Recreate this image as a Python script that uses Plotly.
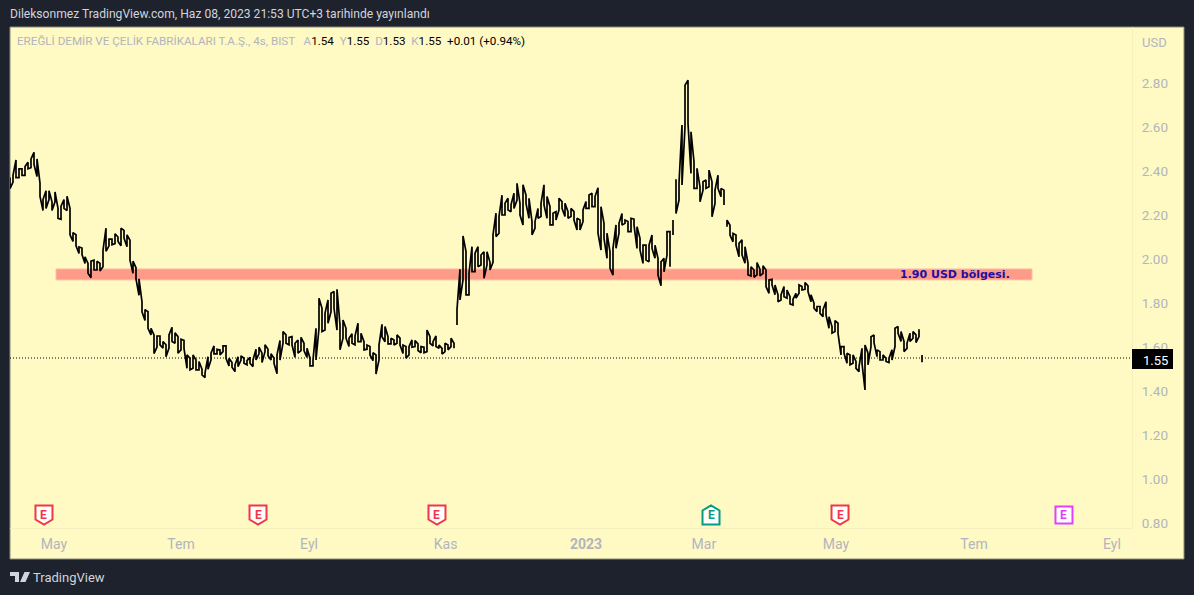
import plotly.graph_objects as go

highs = [
2.37,2.38,2.45,2.41,2.41,2.42,2.44,2.455,2.485,2.455,2.345,2.27,2.31,2.31,2.26,2.305,2.23,2.24,2.27,2.285,2.23,2.12,2.11,2.055,2.05,2.01,1.98,1.99,1.995,1.99,1.98,2.04,2.14,2.09,2.09,2.115,2.10,2.14,2.13,2.11,2.085,1.99,1.96,1.91,1.805,1.77,1.76,1.685,1.655,1.65,1.65,1.625,1.61,
1.655,1.69,1.665,1.647,1.635,1.63,1.564,1.549,1.564,1.541,1.534,1.499,1.481,1.556,1.572,1.605,1.59,1.587,1.605,1.605,1.549,1.529,1.519,1.556,1.56,1.549,1.538,1.553,1.541,1.59,1.599,1.572,1.61,1.59,1.569,1.549,1.564,1.63,1.67,1.655,1.644,1.647,1.617,1.632,1.644,1.617,1.594,1.549,1.541,1.685,1.822,
1.776,1.753,1.814,1.844,1.852,1.862,1.70,1.723,1.685,1.64,1.66,1.65,1.708,1.662,1.624,1.609,1.602,1.574,1.564,1.609,1.703,1.693,1.647,1.64,1.632,1.655,1.64,1.609,1.602,1.602,1.632,1.629,1.614,1.602,1.599,1.677,1.647,1.624,1.65,1.609,1.594,1.617,1.609,1.64,1.617,1.771,1.953,2.105,2.034,1.935,
2.056,2.026,2.056,2.018,2.033,2.033,1.985,2.11,2.208,2.193,2.29,2.253,2.276,2.246,2.299,2.344,2.253,2.337,2.29,2.276,2.17,2.17,2.23,2.253,2.337,2.284,2.238,2.208,2.215,2.276,2.261,2.253,2.215,2.23,2.215,2.185,2.177,2.223,2.261,2.291,2.299,2.284,2.324,2.238,2.162,2.117,2.033,2.049,2.155,2.162,
2.207,2.177,2.17,2.185,2.181,2.147,2.094,2.063,2.063,2.063,2.109,2.063,2.003,1.987,2.003,2.124,2.124,2.177,2.363,2.344,2.609,2.79,2.813,2.578,2.442,2.412,2.328,2.351,2.359,2.404,2.351,2.313,2.381,2.321,2.313,2.177,2.154,2.116,2.109,2.071,
2.087,2.056,1.981,1.965,1.95,1.984,1.953,1.969,1.95,1.905,1.908,1.882,1.837,1.837,1.875,1.859,1.829,1.817,1.844,1.882,1.875,1.893,1.878,1.837,1.799,1.784,1.784,1.769,1.806,1.738,1.693,1.72,1.708,1.602,1.602,1.572,1.564,1.564,1.534,1.511,1.594,1.609,1.572,1.647,1.655,1.587,1.579,1.564,1.549,1.549,1.587,1.685,1.693,1.67,1.625,1.617,1.663,1.67,1.655,1.681,1.564]
lows = [
2.32,2.35,2.37,2.37,2.38,2.38,2.41,2.415,2.43,2.375,2.285,2.22,2.23,2.27,2.22,2.26,2.185,2.18,2.23,2.22,2.11,2.08,2.06,2.025,2.02,1.98,1.935,1.915,1.95,1.95,1.945,1.965,2.035,2.06,2.065,2.07,2.08,2.06,2.095,2.056,1.995,1.935,1.91,1.835,1.76,1.72,1.685,1.655,1.57,1.60,1.61,1.595,1.556,
1.595,1.625,1.617,1.572,1.587,1.594,1.503,1.496,1.503,1.496,1.496,1.473,1.461,1.499,1.541,1.569,1.569,1.564,1.579,1.549,1.514,1.508,1.488,1.511,1.541,1.526,1.519,1.526,1.511,1.541,1.569,1.529,1.579,1.56,1.541,1.526,1.478,1.541,1.617,1.617,1.61,1.61,1.553,1.572,1.584,1.584,1.553,1.514,1.514,1.541,1.685,
1.67,1.677,1.708,1.76,1.776,1.677,1.587,1.64,1.64,1.602,1.617,1.61,1.624,1.624,1.587,1.59,1.564,1.538,1.477,1.541,1.647,1.624,1.614,1.614,1.609,1.617,1.609,1.571,1.549,1.564,1.599,1.602,1.584,1.574,1.574,1.579,1.617,1.605,1.602,1.594,1.568,1.579,1.587,1.602,1.594,1.70,1.814,1.905,1.837,1.837,
1.943,1.943,1.965,1.973,1.912,1.973,1.95,1.985,2.102,2.117,2.2,2.2,2.223,2.215,2.23,2.268,2.2,2.155,2.253,2.185,2.11,2.14,2.185,2.193,2.246,2.185,2.155,2.155,2.177,2.223,2.23,2.193,2.185,2.193,2.177,2.132,2.132,2.17,2.23,2.23,2.238,2.238,2.117,2.041,2.094,2.003,1.958,1.927,2.049,2.117,
2.154,2.162,2.124,2.124,2.154,2.048,2.041,1.98,1.995,1.987,2.048,2.003,1.927,1.878,1.942,2.018,1.965,2.109,2.207,2.268,2.336,2.601,2.616,2.389,2.321,2.321,2.26,2.313,2.321,2.328,2.192,2.253,2.321,2.283,2.245,2.147,2.109,2.078,2.063,2.01,
2.019,1.981,1.928,1.923,1.917,1.928,1.923,1.935,1.875,1.844,1.882,1.837,1.806,1.814,1.829,1.822,1.796,1.791,1.822,1.844,1.859,1.862,1.852,1.806,1.776,1.761,1.753,1.738,1.746,1.685,1.663,1.67,1.663,1.564,1.572,1.526,1.519,1.526,1.503,1.488,1.526,1.405,1.519,1.602,1.62,1.556,1.541,1.541,1.534,1.529,1.541,1.602,1.663,1.625,1.579,1.594,1.625,1.64,1.62,1.647,1.531]
break_before = [149, 221, 222, 239, 304]     # bars the chart leaves unconnected

last_price = 1.55
zone_low, zone_high = 1.905, 1.955
zone_start, zone_end = 15.33, 340.67
zone_label = "1.90 USD bölgesi."

month_ticks = [14.67, 57, 99.67, 145.2, 192, 231.3, 275.3, 321.33, 367.33]
month_labels = ["May", "Tem", "Eyl", "Kas", "<b>2023</b>", "Mar", "May", "Tem", "Eyl"]
price_ticks = [0.8, 1.0, 1.2, 1.4, 1.6, 1.8, 2.0, 2.2, 2.4, 2.6, 2.8]
price_labels = ["0.80", "1.00", "1.20", "1.40", "1.60", "1.80", "2.00", "2.20", "2.40", "2.60", "2.80"]

earnings_bars = [11.33, 82.67, 142.33, 233.67, 276.67, 351.33]
earnings_kind = ["past", "past", "past", "up", "past", "next"]

W, H = 1194, 595
L, R, T, B = 10, 1132, 27, 528
BG, PANEL, GREY = "#1e222d", "#fff9c4", "#b2b5be"
FONT = "Roboto"

def px(x): return (x - L) / (R - L)
def py(y): return (B - y) / (B - T)

xs, ys = [], []
for i, (h, l) in enumerate(zip(highs, lows)):
    if i in break_before:
        xs.append(None); ys.append(None)
    pair = (h, l) if i % 2 == 0 else (l, h)
    xs += [i, i]; ys += list(pair)

fig = go.Figure()
fig.add_trace(go.Scatter(x=xs, y=ys, mode="lines", connectgaps=False,
                         line=dict(color="#000000", width=1.7), hoverinfo="skip"))

shapes = [
    dict(type="rect", xref="paper", yref="paper", x0=0, x1=px(1184), y0=py(559), y1=1,
         fillcolor=PANEL, line=dict(color="#8a8a7c", width=1), layer="below"),
    dict(type="rect", xref="x", yref="y", x0=zone_start, x1=zone_end, y0=zone_low, y1=zone_high,
         fillcolor="#fd9a88", line=dict(color="#fdc2a8", width=1), layer="below"),
    dict(type="line", xref="paper", yref="y", x0=0, x1=1, y0=last_price, y1=last_price,
         line=dict(color="#000000", width=1, dash="1px,2px"), layer="below"),
    dict(type="rect", xref="paper", yref="paper", x0=px(1132), x1=px(1173), y0=py(369), y1=py(349),
         fillcolor="#000000", line=dict(width=0), layer="above"),
    # TradingView logo
    dict(type="path", xref="paper", yref="paper", xsizemode="pixel", ysizemode="pixel",
         xanchor=px(10), yanchor=py(582),
         path="M 0 10 L 9 10 L 9 0 L 5 0 L 5 6 L 0 6 Z M 14.5 10 L 20 10 L 15.5 0 L 10 0 Z M 10 8 A 2 2 0 1 0 14 8 A 2 2 0 1 0 10 8 Z",
         fillcolor="#d1d4dc", line=dict(width=0)),
]
icon = {
    "past": ("#f23645", "M -8.5 9.5 L 8.5 9.5 L 8.5 -4.5 L 0 -9.5 L -8.5 -4.5 Z"),
    "up": ("#089981", "M -8.5 -9.5 L 8.5 -9.5 L 8.5 4.5 L 0 9.5 L -8.5 4.5 Z"),
    "next": ("#e040fb", "M -8.5 8.5 L 8.5 8.5 L 8.5 -8.5 L -8.5 -8.5 Z"),
}
annotations = []
for b, k in zip(earnings_bars, earnings_kind):
    c, p = icon[k]
    shapes.append(dict(type="path", xref="x", yref="paper", xsizemode="pixel", ysizemode="pixel",
                       xanchor=b, yanchor=py(515), path=p, fillcolor="#ffffff",
                       line=dict(color=c, width=2), layer="above"))
    annotations.append(dict(x=b, xref="x", y=py(515), yref="paper", text="<b>E</b>", showarrow=False,
                            font=dict(family="Roboto", size=12, color=c), xanchor="center", yanchor="middle"))

def note(x, y, text, size=12, color=GREY, xanchor="left"):
    annotations.append(dict(x=px(x), y=py(y), xref="paper", yref="paper", text=text, showarrow=False,
                            xanchor=xanchor, yanchor="middle", xshift=0,
                            font=dict(family=FONT, size=size, color=color),
                            borderpad=0, borderwidth=0))

note(10, 14.5, "Dileksonmez TradingView.com, Haz 08, 2023 21:53 UTC+3 tarihinde yayınlandı", 12.1, "#d1d4dc")
note(33, 577, "TradingView", 13, "#d1d4dc")
note(17, 41.5, "EREĞLİ DEMİR VE ÇELİK FABRİKALARI T.A.Ş., 4s, BIST  "
     "&nbsp;A<span style='color:#000'>1.54</span> &nbsp;Y<span style='color:#000'>1.55</span> "
     "&nbsp;D<span style='color:#000'>1.53</span> &nbsp;K<span style='color:#000'>1.55</span> "
     "&nbsp;<span style='color:#000'>+0.01 (+0.94%)</span>", 11.65)
note(1142, 42, "USD", 13)
note(1143, 360, "1.55", 13, "#ffffff")
annotations.append(dict(x=zone_end - 6.6, xref="x", y=(zone_low + zone_high) / 2, yref="y", text="<b>" + zone_label + "</b>",
                        showarrow=False, xanchor="right", yanchor="middle",
                        font=dict(family="DejaVu Sans", size=11, color="#1f0fa3")))

fig.update_layout(
    width=W, height=H, autosize=False, showlegend=False,
    paper_bgcolor=BG, plot_bgcolor="rgba(0,0,0,0)",
    margin=dict(l=L, r=W - R, t=T, b=H - B, pad=0),
    shapes=shapes, annotations=annotations,
    font=dict(family=FONT, color=GREY, size=13),
    xaxis=dict(range=[0, (R - L) / 3], tickmode="array", tickvals=month_ticks, ticktext=month_labels,
               showgrid=False, zeroline=False, showline=True, linecolor="#f6efbe", linewidth=1,
               ticks="outside", ticklen=3, tickcolor="rgba(0,0,0,0)", tickfont=dict(family=FONT, size=14, color=GREY)),
    yaxis=dict(range=[2.8 - (B - 83) / 220, 2.8 + (83 - T) / 220], side="right", tickmode="array",
               tickvals=price_ticks, ticktext=price_labels, showgrid=False, zeroline=False,
               showline=True, linecolor="#f6efbe", linewidth=1, ticks="outside", ticklen=6,
               tickcolor="rgba(0,0,0,0)", tickfont=dict(family=FONT, size=13.5, color=GREY)),
)
fig.write_html("out.html", config={"displayModeBar": False},
               post_script="document.body.style.margin='0';document.body.style.overflow='hidden';")
